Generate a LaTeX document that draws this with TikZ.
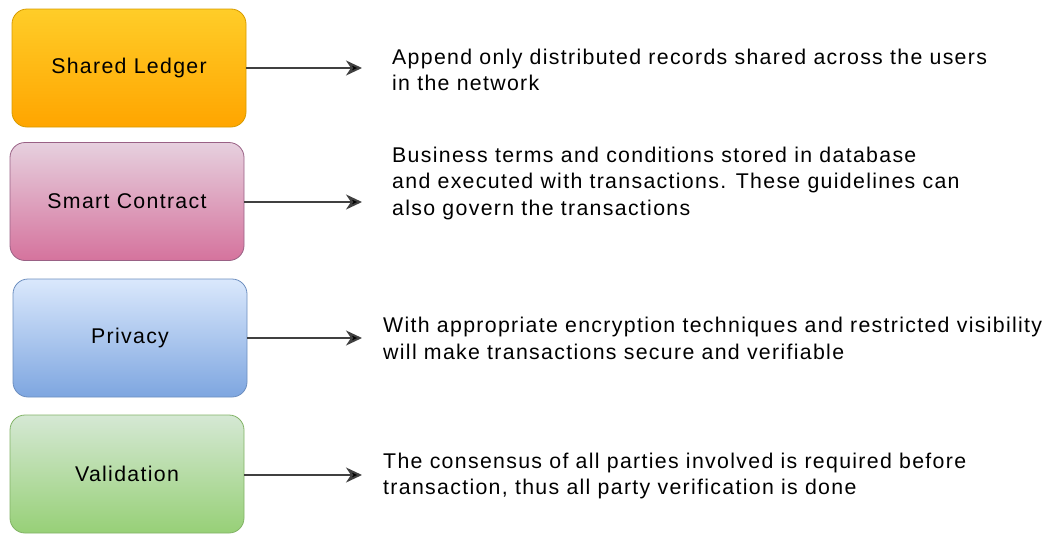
\documentclass[tikz,border=0pt]{standalone}
\usepackage{fontspec}
\setmainfont[LetterSpace=6.2]{Liberation Sans}
\usetikzlibrary{arrows.meta}

\tikzset{
  box/.style={rounded corners=15pt, minimum width=234pt, minimum height=118pt,
    inner sep=0pt, line width=0.8pt, font=\fontsize{21.3}{26}\selectfont},
  desc/.style={anchor=west, align=left, inner sep=0pt, font=\fontsize{21.3}{26.5}\selectfont},
  link/.style={line width=2pt, draw=black!75, -{Stealth[length=16pt, width=15pt, inset=5pt, fill=black]}}
}

\begin{document}
\begin{tikzpicture}[x=1pt, y=-1pt]
              \useasboundingbox (0,0) rectangle (1043,533);

              % Boxes
              \node[box, draw={rgb,255:red,215;green,155;blue,0},
                top color={rgb,255:red,255;green,205;blue,40},
                bottom color={rgb,255:red,255;green,165;blue,0}] (ledger) at (129,68) {Shared Ledger};
              \node[box, draw={rgb,255:red,153;green,97;blue,133},
                top color={rgb,255:red,230;green,208;blue,222},
                bottom color={rgb,255:red,213;green,115;blue,157}] (contract) at (127,201.5) {Smart Contract};
              \node[box, draw={rgb,255:red,108;green,142;blue,191},
                top color={rgb,255:red,218;green,232;blue,252},
                bottom color={rgb,255:red,126;green,166;blue,224}] (privacy) at (130,338) {Privacy};
              \node[box, draw={rgb,255:red,130;green,179;blue,102},
                top color={rgb,255:red,213;green,232;blue,212},
                bottom color={rgb,255:red,151;green,208;blue,119}] (validation) at (127,474) {Validation};

              % Descriptions
              \node[desc] (ledgertxt) at (392,70) {Append only distributed records shared across the users\\in the network};
              \node[desc] (contracttxt) at (392,183) {Business terms and conditions stored in database\\and executed with transactions. These guidelines can\\also govern the transactions};
              \node[desc] (privacytxt) at (383,338.5) {With appropriate encryption techniques and restricted visibility\\will make transactions secure and verifiable};
              \node[desc] (validationtxt) at (383,476) {The consensus of all parties involved is required before\\transaction, thus all party verification is done};

              % Arrows
              \coordinate (ledgerend) at (362,68);
              \coordinate (contractend) at (362,202);
              \coordinate (privacyend) at (362,338);
              \coordinate (validationend) at (362,475);
              \draw[link] (ledger.east |- ledgerend) -- (ledgerend);
              \draw[link] (contract.east |- contractend) -- (contractend);
              \draw[link] (privacy.east |- privacyend) -- (privacyend);
              \draw[link] (validation.east |- validationend) -- (validationend);
          \end{tikzpicture}
\end{document}
